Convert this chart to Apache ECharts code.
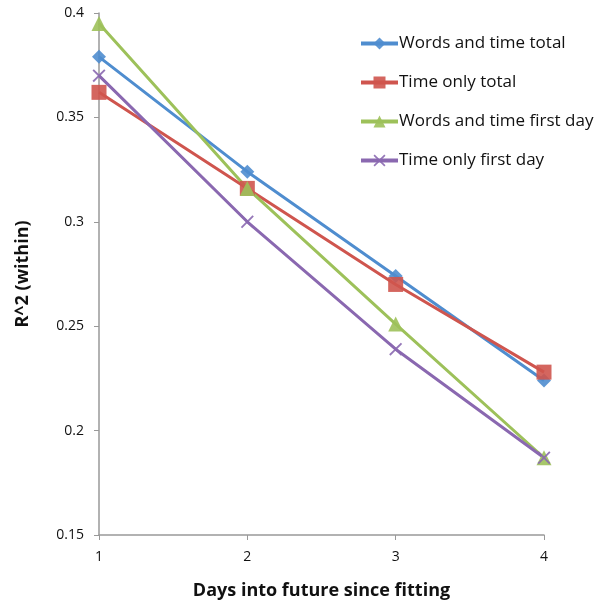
<!DOCTYPE html>
<html>
<head>
<meta charset="utf-8">
<script src="https://cdn.jsdelivr.net/npm/echarts@6/dist/echarts.min.js"></script>
<style>
  html, body { margin: 0; padding: 0; background: #fff; }
  #chart { width: 601px; height: 605px; }
</style>
</head>
<body>
<div id="chart"></div>
<script>
// 数据
var days = [1, 2, 3, 4];
var wordsTimeTotal = [0.379, 0.324, 0.274, 0.224];
var timeOnlyTotal = [0.362, 0.316, 0.270, 0.228];
var wordsTimeFirst = [0.395, 0.316, 0.251, 0.187];
var timeOnlyFirst = [0.370, 0.300, 0.239, 0.187];
var seriesNames = ['Words and time total', 'Time only total', 'Words and time first day', 'Time only first day'];

var crossPath = 'path://M0,1L1,0L5,4L9,0L10,1L6,5L10,9L9,10L5,6L1,10L0,9L4,5Z';

function pairs(vals) {
    var out = [];
    for (var i = 0; i < days.length; i++) {
        out.push([days[i], vals[i]]);
    }
    return out;
}

function mkSeries(name, vals, color, symbol, size) {
    return {
        name: name,
        type: 'line',
        data: pairs(vals),
        symbol: symbol,
        symbolSize: size,
        showAllSymbol: true,
        lineStyle: { color: color, width: 3 },
        itemStyle: { color: color, opacity: 0.9 },
        emphasis: { disabled: true }
    };
}

var myChart = echarts.init(document.getElementById('chart'));
var option = {
    animation: false,
    textStyle: { fontFamily: 'Open Sans' },
    grid: { left: 99, right: 57, top: 13, bottom: 68 },
    legend: {
        orient: 'vertical',
        left: 354,
        top: 30,
        itemWidth: 37,
        itemHeight: 15,
        itemGap: 22,
        lineStyle: { width: 4 },
        textStyle: { fontSize: 17, color: '#111', fontFamily: 'Open Sans', padding: [0, 0, 0, -4] },
        data: seriesNames
    },
    xAxis: {
        type: 'value',
        min: 1,
        max: 4,
        interval: 1,
        name: 'Days into future since fitting',
        nameLocation: 'middle',
        nameGap: 47,
        nameTextStyle: { fontSize: 18, fontWeight: 'bold', color: '#111' },
        axisLine: { lineStyle: { color: '#999', width: 1.5 } },
        axisTick: { show: true, length: 5, lineStyle: { color: '#999' } },
        axisLabel: { fontSize: 14, color: '#111', margin: 15 },
        splitLine: { show: false }
    },
    yAxis: {
        type: 'value',
        min: 0.15,
        max: 0.4,
        interval: 0.05,
        name: 'R^2 (within)',
        nameLocation: 'middle',
        nameGap: 67,
        nameTextStyle: { fontSize: 18, fontWeight: 'bold', color: '#111' },
        axisLine: { show: true, lineStyle: { color: '#999', width: 1.5 } },
        axisTick: { show: true, length: 5, lineStyle: { color: '#999' } },
        axisLabel: {
            fontSize: 14, color: '#111', margin: 15,
            formatter: function(v) { return String(+v.toFixed(2)); }
        },
        splitLine: { show: false }
    },
    series: [
        mkSeries(seriesNames[0], wordsTimeTotal, '#4f8dcf', 'diamond', 14),
        mkSeries(seriesNames[1], timeOnlyTotal, '#cf554e', 'rect', 15),
        mkSeries(seriesNames[2], wordsTimeFirst, '#9dc15a', 'triangle', 15),
        mkSeries(seriesNames[3], timeOnlyFirst, '#8a68b0', crossPath, 13)
    ]
};
myChart.setOption(option);
</script>
</body>
</html>
